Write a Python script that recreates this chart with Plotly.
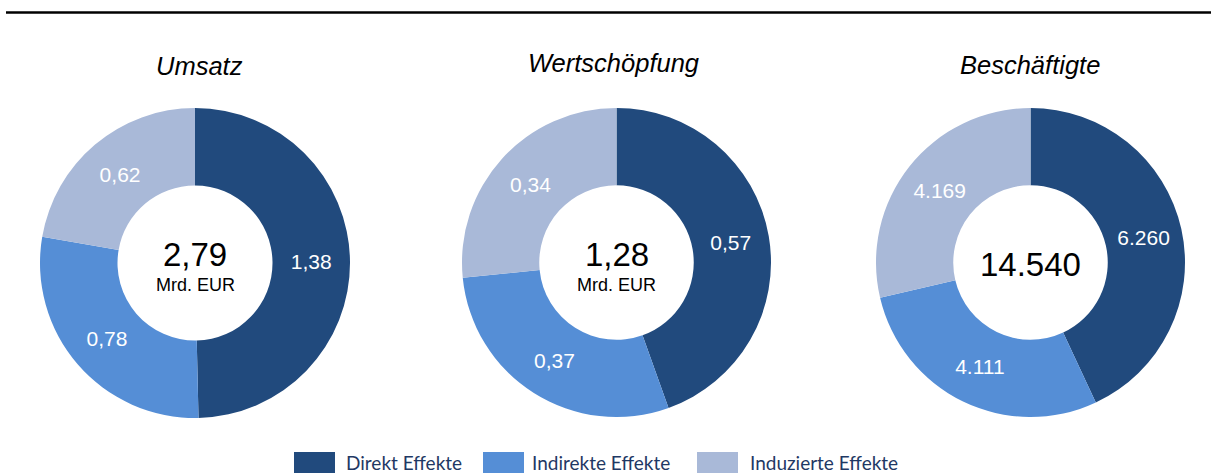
import plotly.graph_objects as go

W, H = 1211, 473

categories = ["Direkt Effekte", "Indirekte Effekte", "Induzierte Effekte"]
colors = ["#214A7D", "#558ED6", "#A9B9D8"]

titles = ["Umsatz", "Wertschöpfung", "Beschäftigte"]
umsatz = [1.38, 0.78, 0.62]
wertschoepfung = [0.57, 0.37, 0.34]
beschaeftigte = [6260, 4111, 4169]
totals = ["2,79", "1,28", "14.540"]
units = ["Mrd. EUR", "Mrd. EUR", ""]

series = [umsatz, wertschoepfung, beschaeftigte]


def fmt(v, i):
    if i == 2:
        return f"{v:,.0f}".replace(",", ".")
    return f"{v:.2f}".replace(".", ",")


# pie placement in pixels (left, top, size)
boxes = [(40, 108, 310), (462, 108, 309), (876, 108, 309)]
title_pos = [(199.5, 66), (613.5, 63), (1030, 65)]
FONT = "Liberation Sans, Arial"

fig = go.Figure()
annotations = []
shapes = []
for i, vals in enumerate(series):
    x0, y0, s = boxes[i]
    fig.add_trace(go.Pie(
        labels=categories,
        values=vals,
        text=[fmt(v, i) for v in vals],
        textinfo="text",
        texttemplate="%{text}",
        textposition="inside",
        insidetextorientation="horizontal",
        textfont=dict(family=FONT, size=21, color="white"),
        marker=dict(colors=colors, line=dict(width=0)),
        hole=0.5,
        sort=False,
        direction="clockwise",
        rotation=0,
        showlegend=False,
        hoverinfo="label+value",
        domain=dict(x=[x0 / W, (x0 + s) / W], y=[1 - (y0 + s) / H, 1 - y0 / H]),
    ))
    cx = (x0 + s / 2) / W
    tx, ty = title_pos[i]
    annotations.append(dict(
        text=f"<i>{titles[i]}</i>", x=tx / W, y=1 - ty / H, xref="paper", yref="paper",
        showarrow=False, font=dict(family=FONT, size=25.5, color="black"),
        xanchor="center", yanchor="middle"))
    if units[i]:
        annotations.append(dict(
            text=totals[i], x=cx, y=1 - 254 / H, xref="paper", yref="paper",
            showarrow=False, font=dict(family=FONT, size=33, color="black"),
            xanchor="center", yanchor="middle"))
        annotations.append(dict(
            text=units[i], x=cx, y=1 - 285 / H, xref="paper", yref="paper",
            showarrow=False, font=dict(family=FONT, size=18, color="black"),
            xanchor="center", yanchor="middle"))
    else:
        annotations.append(dict(
            text=totals[i], x=cx, y=1 - 264 / H, xref="paper", yref="paper",
            showarrow=False, font=dict(family=FONT, size=33, color="black"),
            xanchor="center", yanchor="middle"))

# top rule
shapes.append(dict(type="line", xref="paper", yref="paper", x0=6 / W, x1=1, y0=1 - 12.5 / H,
                   y1=1 - 12.5 / H, line=dict(color="black", width=2.5)))

# custom legend
legend_items = [(294, 344), (483, 530), (697, 748)]
for (sx, tx), name, col in zip(legend_items, categories, colors):
    shapes.append(dict(type="rect", xref="paper", yref="paper", x0=sx / W, x1=(sx + 41) / W,
                       y0=1 - 480 / H, y1=1 - 452 / H, fillcolor=col, line=dict(width=0)))
    annotations.append(dict(
        text=name, x=tx / W, y=1 - 462 / H, xref="paper", yref="paper", showarrow=False,
        xanchor="left", yanchor="middle",
        font=dict(family="Lato, Open Sans", size=19, color="#1F3864")))

fig.update_layout(
    width=W, height=H,
    margin=dict(l=0, r=0, t=0, b=0),
    paper_bgcolor="white", plot_bgcolor="white",
    annotations=annotations, shapes=shapes,
    showlegend=False,
)

fig.write_html(
    "out.html",
    config={"displayModeBar": False},
    post_script="document.body.style.margin='0';document.body.style.overflow='hidden';",
)
